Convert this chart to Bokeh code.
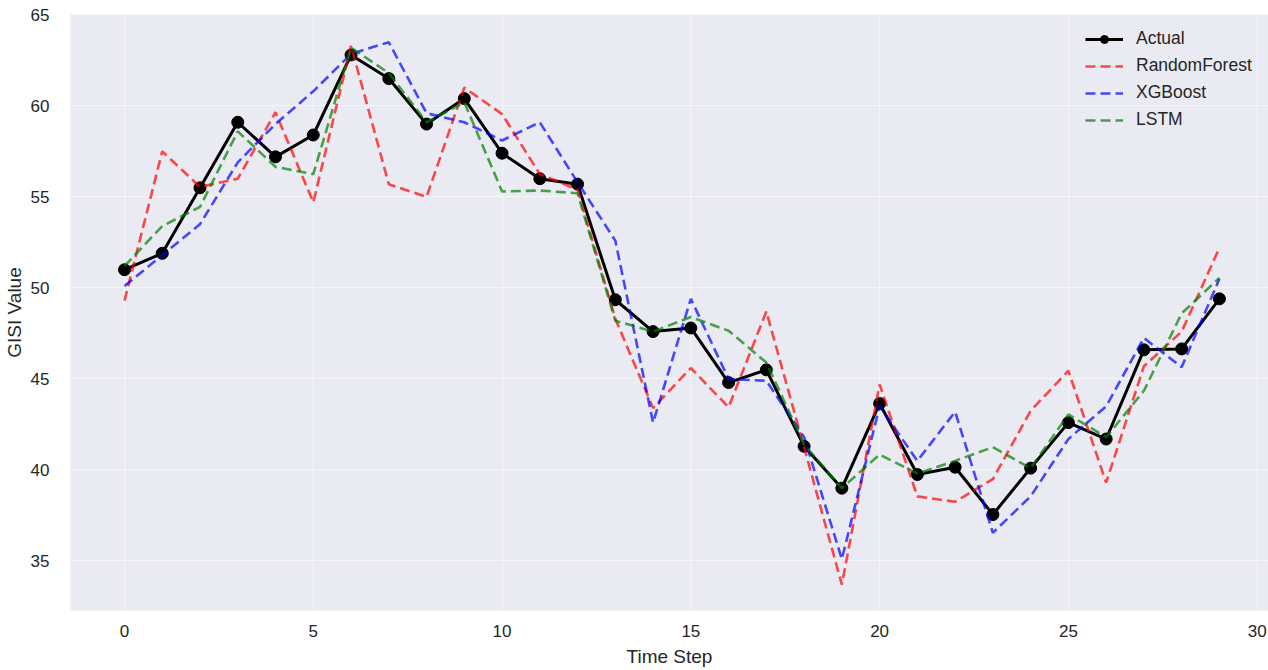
from bokeh.plotting import figure
from bokeh.models import ColumnDataSource, Legend, LegendItem, Range1d, SingleIntervalTicker
from bokeh.embed import file_html
from bokeh.resources import INLINE

time_step = list(range(30))
actual = [51.0, 51.9, 55.5, 59.1, 57.2, 58.4, 62.8, 61.5, 59.0, 60.4,
          57.4, 56.0, 55.7, 49.35, 47.6, 47.8, 44.8, 45.5, 41.3, 39.0,
          43.65, 39.75, 40.15, 37.55, 40.1, 42.6, 41.7, 46.6, 46.65, 49.4]
random_forest = [49.3, 57.5, 55.55, 56.0, 59.65, 54.7, 63.3, 55.7, 55.0, 61.0,
                 59.55, 56.25, 55.4, 48.3, 43.4, 45.6, 43.45, 48.7, 41.25, 33.7,
                 44.7, 38.55, 38.25, 39.5, 43.25, 45.45, 39.3, 45.7, 47.6, 52.2]
xgboost = [50.1, 51.8, 53.5, 56.9, 59.0, 60.8, 62.85, 63.5, 59.6, 59.1,
           58.1, 59.1, 55.8, 52.6, 42.6, 49.4, 45.0, 44.9, 41.8, 35.1,
           43.5, 40.5, 43.2, 36.55, 38.55, 41.7, 43.5, 47.25, 45.65, 50.5]
lstm = [51.2, 53.4, 54.45, 58.6, 56.65, 56.25, 63.2, 61.8, 59.1, 60.2,
        55.3, 55.35, 55.2, 48.2, 47.6, 48.4, 47.65, 45.9, 41.4, 39.0,
        40.85, 39.8, 40.5, 41.25, 40.1, 43.05, 41.8, 44.35, 48.6, 50.55]

series_names = ["Actual", "RandomForest", "XGBoost", "LSTM"]

src = ColumnDataSource(dict(t=time_step, actual=actual, rf=random_forest,
                            xgb=xgboost, lstm=lstm))

FONT = "Liberation Sans"
TXT = "#262626"

p = figure(width=1268, height=670, output_backend="svg", toolbar_location=None,
           x_range=Range1d(-1.43, 30.3), y_range=Range1d(32.28, 65.02),
           min_border_left=70, min_border_right=0, min_border_top=14,
           min_border_bottom=60)
p.background_fill_color = "#EAEAF2"
p.border_fill_color = "white"
p.outline_line_color = None

for ax in (p.xaxis[0], p.yaxis[0]):
    ax.axis_line_color = None
    ax.major_tick_line_color = None
    ax.minor_tick_line_color = None
    ax.major_label_text_font = FONT
    ax.major_label_text_font_size = "17px"
    ax.major_label_text_color = TXT
    ax.axis_label_text_font = FONT
    ax.axis_label_text_font_size = "19px"
    ax.axis_label_text_font_style = "normal"
    ax.axis_label_text_color = TXT
    ax.ticker = SingleIntervalTicker(interval=5)

p.xaxis.axis_label = "Time Step"
p.yaxis.axis_label = "GISI Value"
p.xaxis.major_label_standoff = 8
p.xaxis.axis_label_standoff = 6
p.yaxis.major_label_standoff = 15
p.yaxis.axis_label_standoff = 3

p.grid.grid_line_color = "white"
p.grid.grid_line_alpha = 0.55
p.grid.grid_line_width = 1
p.xgrid.ticker = SingleIntervalTicker(interval=5)
p.ygrid.ticker = SingleIntervalTicker(interval=5)

a_line = p.line("t", "actual", source=src, line_color="black", line_width=3)
a_pts = p.scatter("t", "actual", source=src, size=12, marker="circle",
                  fill_color="black", line_color="black")
rf_line = p.line("t", "rf", source=src, line_color="red", line_alpha=0.7,
                 line_width=2.6, line_dash="10 5")
xgb_line = p.line("t", "xgb", source=src, line_color="blue", line_alpha=0.7,
                  line_width=2.6, line_dash="10 5")
lstm_line = p.line("t", "lstm", source=src, line_color="green", line_alpha=0.7,
                   line_width=2.6, line_dash="10 5")

legend = Legend(items=[
    LegendItem(label=series_names[0], renderers=[a_line, a_pts]),
    LegendItem(label=series_names[1], renderers=[rf_line]),
    LegendItem(label=series_names[2], renderers=[xgb_line]),
    LegendItem(label=series_names[3], renderers=[lstm_line]),
], location=(1015, 480))
legend.background_fill_alpha = 0
legend.border_line_alpha = 0
legend.padding = 0
legend.margin = 0
legend.spacing = 6
legend.glyph_width = 38
legend.glyph_height = 20
legend.label_height = 20
legend.label_standoff = 13
legend.label_text_font = FONT
legend.label_text_font_size = "17.5px"
legend.label_text_color = TXT
p.add_layout(legend, "center")

open("out.html", "w").write(file_html(p, INLINE))
